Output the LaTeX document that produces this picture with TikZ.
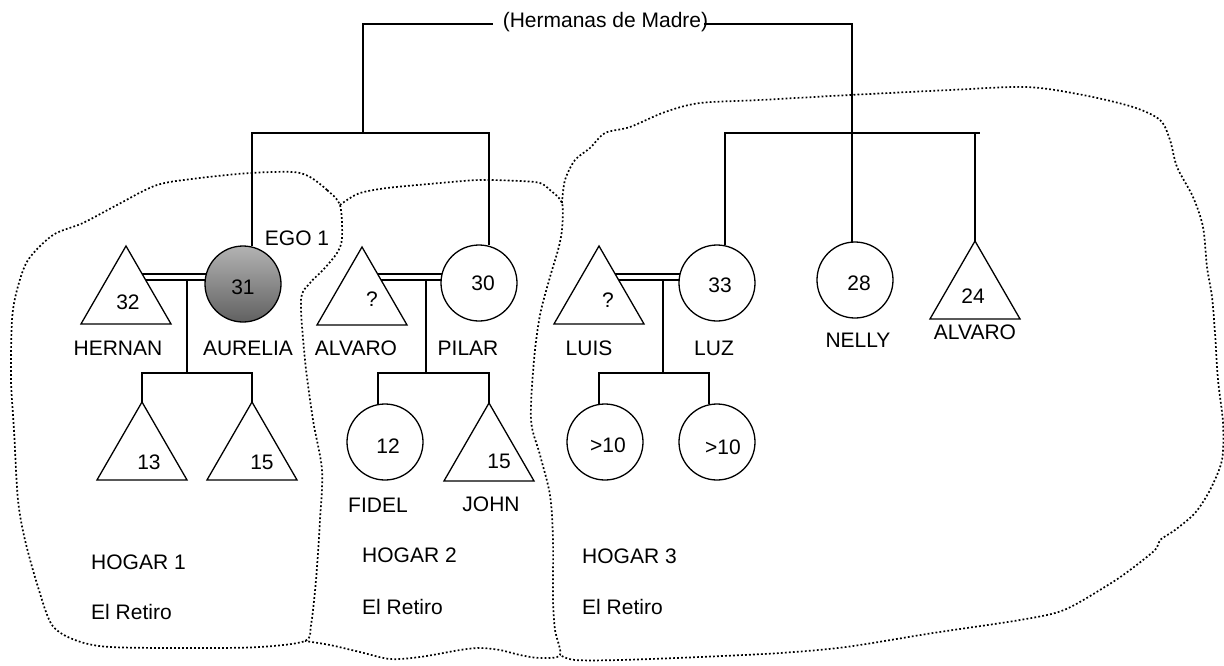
\documentclass[tikz,border=0pt]{standalone}
\usepackage{fontspec}
\setmainfont{Liberation Sans}
\usetikzlibrary{shapes.geometric,backgrounds}

\newcommand\rotulofont{\fontsize{21}{25}\selectfont}
\newcommand\varon[4]{
  \node[varon] (#1) at (#2) {};
  \node[rotulo] (#1-edad) at ([shift={(#4)}]#1.center) {#3};
}
\newcommand\mujer[5][]{
  \node[mujer, #1] (#2) at (#3) {};
  \node[rotulo] (#2-edad) at ([shift={(#5)}]#2.center) {#4};
}

\tikzset{
  persona/.style={draw, line width=1.3pt, fill=white, inner sep=0pt, outer sep=0pt},
  varon/.style={persona, regular polygon, regular polygon sides=3, minimum size=104pt},
  mujer/.style={persona, circle, minimum size=76pt},
  ego/.style={top color=black!30, bottom color=black!62},
  rotulo/.style={inner sep=0pt, font=\rotulofont},
  linea/.style={line width=1.4pt},
  matrimonio/.style={linea, double, double distance=4.6pt},
  hogar/.style={line width=1.7pt, dash pattern=on 1.8pt off 2.2pt},
}

\begin{document}
\begin{tikzpicture}[x=1pt, y=-1pt]
  \useasboundingbox (0,0) rectangle (1224,665);

  % hogar 1
  \varon{hernan}{126,298}{32}{2,4}
  \mujer[ego]{aurelia}{243,284}{31}{0,3}
  \varon{hijo13}{142,454}{13}{7,8}
  \varon{hijo15}{252,454}{15}{10,8}
  % hogar 2
  \varon{alvaro}{362,299}{?}{10,0}
  \mujer{pilar}{479,283}{30}{4,0}
  \mujer{fidel}{385,442}{12}{3,4}
  \varon{john}{489,455}{15}{10,6}
  % hogar 3
  \varon{luis}{599,298}{?}{9,2}
  \mujer{luz}{717,283}{33}{3,2}
  \mujer{nelly}{855,280}{28}{4,3}
  \varon{alvarob}{975,293}{24}{-2,3}
  \mujer{hijo3a}{605,442}{>10}{3,3}
  \mujer{hijo3b}{717,442}{>10}{6,5}

  \node[rotulo, anchor=base] (hermanas) at (605.5,27) {(Hermanas de Madre)};
  \node[rotulo] (l-hernan) at (118,348) {HERNAN};
  \node[rotulo] (l-aurelia) at (248,348) {AURELIA};
  \node[rotulo] (l-alvaro) at (356,348) {ALVARO};
  \node[rotulo] (l-pilar) at (468,348) {PILAR};
  \node[rotulo] (l-luis) at (589,348) {LUIS};
  \node[rotulo] (l-luz) at (714,348) {LUZ};
  \node[rotulo] (l-nelly) at (858,340) {NELLY};
  \node[rotulo] (l-alvarob) at (975,332) {ALVARO};
  \node[rotulo] (l-fidel) at (378,505) {FIDEL};
  \node[rotulo] (l-john) at (491,504) {JOHN};
  \node[rotulo] (ego1) at (297,238) {EGO 1};
  \node[rotulo, anchor=west] (hogar1) at (91,562) {HOGAR 1};
  \node[rotulo, anchor=west] (retiro1) at (91,612) {El Retiro};
  \node[rotulo, anchor=west] (hogar2) at (362,555) {HOGAR 2};
  \node[rotulo, anchor=west] (retiro2) at (362,607) {El Retiro};
  \node[rotulo, anchor=west] (hogar3) at (582,556) {HOGAR 3};
  \node[rotulo, anchor=west] (retiro3) at (582,607) {El Retiro};

  \coordinate (rama1) at (363,133);
  \coordinate (rama2) at (980,133);
  \coordinate (m1) at (187,277);
  \coordinate (d1) at (187,373);
  \coordinate (m2) at (426,277);
  \coordinate (d2) at (426,373);
  \coordinate (m3) at (663,277);
  \coordinate (d3) at (663,373);

  \begin{scope}[on background layer]
    % hermanas de madre
    \draw[linea] ([shift={(-10,-3)}]hermanas.base west) -| (rama1);
    \draw[linea] ([shift={(-4,-3)}]hermanas.base east) -| ([xshift=-3pt]nelly.north);
    \draw[linea] ([xshift=9pt]aurelia.north) |- (rama1) -| ([xshift=10pt]pilar.north);
    \draw[linea] ([xshift=8pt]luz.north) |- (rama2);
    \draw[linea] (alvarob.corner 1) -- (alvarob.corner 1 |- rama2);
    % parejas e hijos
    \draw[matrimonio] (hernan.center |- m1) -- (aurelia.center |- m1);
    \draw[linea] ([yshift=-3pt]m1) -- (d1);
    \draw[linea] (hijo13.corner 1) |- (d1) -| (hijo15.corner 1);
    \draw[matrimonio] (alvaro.center |- m2) -- (pilar.center |- m2);
    \draw[linea] ([yshift=-3pt]m2) -- (d2);
    \draw[linea] ([xshift=-7pt]fidel.north) |- (d2) -| (john.corner 1);
    \draw[matrimonio] (luis.center |- m3) -- (luz.center |- m3);
    \draw[linea] ([yshift=-3pt]m3) -- (d3);
    \draw[linea] ([xshift=-6pt]hijo3a.north) |- (d3) -| ([xshift=-8pt]hijo3b.north);

    % hogares
    \draw[hogar] plot[smooth cycle, tension=0.5] coordinates {
      (340,205) (327,190) (310,177) (293,172) (250,173) (200,178) (157,185)
      (117,205) (83,223) (53,235) (28,260) (17,290) (12,320) (11,380)
      (14,430) (18,500) (25,540) (38,587) (52,625) (75,640) (110,647)
      (200,648) (260,647) (305,641) (311,625) (316,580) (320,520) (322,470)
      (313,420) (305,360) (301,300) (310,283) (323,270) (337,253) (342,238)};
    \draw[hogar] plot[smooth, tension=0.5] coordinates {
      (340,205) (347,200) (360,193) (387,188) (440,183) (480,180) (520,181)
      (540,183) (550,190) (562,203) (562,230) (558,250) (550,277) (540,315)
      (534,360) (531,420) (540,455) (550,495) (553,540) (553,600) (555,630)
      (560,655) (540,658) (520,655) (500,650) (480,648) (460,650) (420,657)
      (390,659) (360,652) (330,645) (305,641)};
    \draw[hogar] plot[smooth, tension=0.5] coordinates {
      (562,203) (565,180) (575,160) (590,148) (605,133) (630,127) (665,112)
      (700,103) (760,100) (850,95) (950,90) (1027,87) (1083,95) (1133,107)
      (1160,120) (1170,140) (1177,167) (1193,197) (1203,227) (1207,267)
      (1212,297) (1215,333) (1218,380) (1223,423) (1222,460) (1210,490)
      (1195,513) (1175,530) (1160,540) (1155,550) (1130,570) (1108,585)
      (1064,610) (1020,620) (933,633) (846,647) (780,653) (700,657)
      (620,660) (575,660) (560,655)};
  \end{scope}
\end{tikzpicture}
\end{document}
